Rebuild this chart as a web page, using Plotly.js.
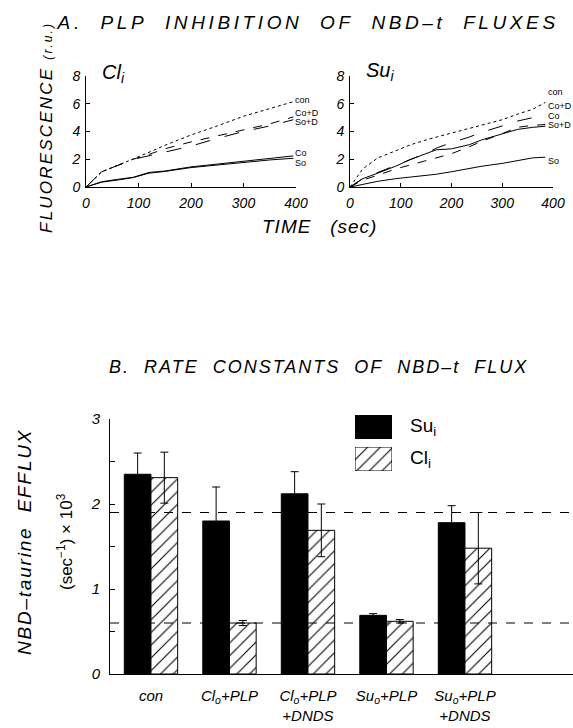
<!DOCTYPE html>
<html>
<head>
<meta charset="utf-8">
<script src="https://cdn.plot.ly/plotly-3.0.1.min.js"></script>
<style>
html,body{margin:0;padding:0;background:#fff;}
#chart{width:573px;height:728px;}
</style>
</head>
<body>
<div id="chart"></div>
<script>
// ---------- Panel A: Cl_i (left) ----------
const clTime = [0, 30, 60, 90, 120, 150, 200, 250, 300, 350, 395];
const clCon  = [0, 1.1, 1.55, 2.0, 2.5, 3.0, 3.75, 4.4, 5.1, 5.65, 6.15];
const clCoD  = [0, 1.1, 1.55, 2.0, 2.35, 2.75, 3.25, 3.7, 4.1, 4.55, 5.05];
const clSoD  = [0, 1.1, 1.55, 2.0, 2.25, 2.5, 2.95, 3.5, 4.0, 4.4, 4.85];
const clCo   = [0, 0.38, 0.55, 0.7, 1.05, 1.15, 1.45, 1.65, 1.85, 2.05, 2.24];
const clSo   = [0, 0.35, 0.5, 0.68, 1.0, 1.12, 1.4, 1.6, 1.8, 1.95, 2.07];

// ---------- Panel A: Su_i (right) ----------
const suTime = [0, 25, 55, 90, 120, 155, 170, 200, 235, 260, 300, 330, 360, 385];
const suCon  = [0, 1.3, 2.1, 2.6, 3.05, 3.45, 3.6, 3.9, 4.2, 4.5, 4.85, 5.25, 5.6, 6.1];
const suCoD  = [0, 0.6, 1.05, 1.55, 2.0, 2.5, 2.8, 3.2, 3.6, 3.95, 4.4, 4.75, 5.0, 5.2];
const suCo   = [0, 0.6, 1.0, 1.5, 2.0, 2.5, 2.68, 2.75, 3.05, 3.4, 3.8, 4.15, 4.3, 4.38];
const suSoD  = [0, 0.5, 0.85, 1.3, 1.6, 1.95, 2.1, 2.4, 2.9, 3.3, 3.85, 4.3, 4.45, 4.5];
const suSo   = [0, 0.2, 0.41, 0.6, 0.72, 0.85, 0.92, 1.1, 1.35, 1.5, 1.7, 1.88, 2.1, 2.15];

const timeTicks = [0, 100, 200, 300, 400];
const fluorTicks = [0, 2, 4, 6, 8];
const curveNames = ['con', 'Co+D', 'So+D', 'Co', 'So'];

// ---------- Panel B: rate constants ----------
const categories = ['con', 'Cl<sub>o</sub>+PLP', 'Cl<sub>o</sub>+PLP<br>+DNDS', 'Su<sub>o</sub>+PLP', 'Su<sub>o</sub>+PLP<br>+DNDS'];
const catPos = [0, 1, 2, 3, 4];
const suValues = [2.35, 1.80, 2.12, 0.69, 1.78];
const suErrors = [0.25, 0.40, 0.26, 0.02, 0.20];
const clValues = [2.31, 0.60, 1.69, 0.62, 1.48];
const clErrors = [0.30, 0.03, 0.31, 0.02, 0.42];
const rateTicks = [0, 0.5, 1, 1.5, 2, 2.5, 3];
const rateTickText = ['0', '', '1', '', '2', '', '3'];
const refLevels = [1.9, 0.6];
const legendLabels = ['Su<sub>i</sub>', 'Cl<sub>i</sub>'];
const legendSwatch = [1];

const FONT = 'Liberation Sans, Arial, sans-serif';
const W = 573, H = 728;
const px = v => v / W;
const py = v => 1 - v / H;

function line(x, y, dash, xa, ya, name) {
  return {type: 'scatter', mode: 'lines', x: x, y: y, xaxis: xa, yaxis: ya, name: name,
          line: {color: '#000', width: 1, dash: dash}, hoverinfo: 'skip'};
}
const hatch = {shape: '/', fgcolor: '#000', bgcolor: '#fff', size: 9, solidity: 0.12};

const traces = [
  line(clTime, clCon, 'dot', 'x', 'y', curveNames[0]),
  line(clTime, clCoD, 'dash', 'x', 'y', curveNames[1]),
  line(clTime, clSoD, 'longdash', 'x', 'y', curveNames[2]),
  line(clTime, clCo, 'solid', 'x', 'y', curveNames[3]),
  line(clTime, clSo, 'solid', 'x', 'y', curveNames[4]),
  line(suTime, suCon, 'dot', 'x2', 'y2', curveNames[0]),
  line(suTime, suCoD, 'longdash', 'x2', 'y2', curveNames[1]),
  line(suTime, suSoD, 'dash', 'x2', 'y2', curveNames[2]),
  line(suTime, suCo, 'solid', 'x2', 'y2', curveNames[3]),
  line(suTime, suSo, 'solid', 'x2', 'y2', curveNames[4]),
  {type: 'bar', x: catPos, y: suValues, xaxis: 'x3', yaxis: 'y3', name: 'Su',
   marker: {color: '#000', line: {color: '#000', width: 1}},
   error_y: {type: 'data', array: suErrors, visible: true, color: '#000', thickness: 1, width: 4}},
  {type: 'bar', x: catPos, y: clValues, xaxis: 'x3', yaxis: 'y3', name: 'Cl',
   marker: {color: '#fff', line: {color: '#000', width: 1}, pattern: hatch},
   error_y: {type: 'data', array: clErrors, visible: true, color: '#000', thickness: 1, width: 4}},
  {type: 'bar', orientation: 'h', x: legendSwatch, y: [0], xaxis: 'x4', yaxis: 'y4', width: 1,
   marker: {color: '#000', line: {color: '#000', width: 1}}, hoverinfo: 'skip'},
  {type: 'bar', orientation: 'h', x: legendSwatch, y: [0], xaxis: 'x5', yaxis: 'y5', width: 1,
   marker: {color: '#fff', line: {color: '#000', width: 1}, pattern: hatch}, hoverinfo: 'skip'}
];

const tf = {family: FONT, size: 14, style: 'italic', color: '#000'};
const axBase = {showline: true, linecolor: '#000', linewidth: 1, showgrid: false, zeroline: false,
                ticks: 'inside', ticklen: 4, tickcolor: '#000', tickfont: tf};

function ann(text, x, y, size, extra) {
  return Object.assign({text: text, x: px(x), y: py(y), xref: 'paper', yref: 'paper',
    xanchor: 'center', yanchor: 'middle', showarrow: false,
    font: {family: FONT, size: size, style: 'italic'}}, extra || {});
}

const annotations = [
  ann('A.\u00a0\u00a0PLP\u00a0\u00a0INHIBITION\u00a0\u00a0OF\u00a0\u00a0NBD\u2013t\u00a0\u00a0FLUXES', 308, 22, 19),
  ann('B.\u00a0\u00a0RATE\u00a0\u00a0CONSTANTS\u00a0\u00a0OF\u00a0\u00a0NBD\u2013t\u00a0\u00a0FLUX', 319, 367, 18),
  ann('TIME\u00a0\u00a0\u00a0(sec)', 319, 226, 19),
  ann('FLUORESCENCE\u00a0<span style="font-size:12px">(r.u.)</span>', 46, 128, 17, {textangle: -90}),
  ann('Cl<sub>i</sub>', 113, 74, 20),
  ann('Su<sub>i</sub>', 380, 72, 20),
  ann('NBD\u2013taurine\u00a0\u00a0EFFLUX', 24, 541, 19, {textangle: -90}),
  ann('(sec<sup>\u22121</sup>) \u00d7 10<sup>3</sup>', 65, 542, 17, {textangle: -90, font: {family: FONT, size: 17}}),
  ann(legendLabels[0], 408, 427, 19, {xanchor: 'left', font: {family: FONT, size: 19}}),
  ann(legendLabels[1], 408, 459, 19, {xanchor: 'left', font: {family: FONT, size: 19}})
];

// curve end labels (order: con, Co+D, So+D, Co, So)
const clLabelY = [6.3, 5.35, 4.65, 2.45, 1.72];
const suLabelY = [6.85, 5.85, 4.45, 5.15, 1.85];
curveNames.forEach((n, i) => {
  annotations.push({text: n, x: 396, y: clLabelY[i], xref: 'x', yref: 'y', xanchor: 'left', yanchor: 'middle',
    showarrow: false, font: {family: FONT, size: 9}, borderpad: 0});
  annotations.push({text: n, x: 389, y: suLabelY[i], xref: 'x2', yref: 'y2', xanchor: 'left', yanchor: 'middle',
    showarrow: false, font: {family: FONT, size: 9}, borderpad: 0});
});

const shapes = refLevels.map(v => ({type: 'line', xref: 'x3 domain', yref: 'y3', x0: 0, x1: 1, y0: v, y1: v,
  line: {color: '#000', width: 1, dash: 'dash'}}));

const layout = {
  width: W, height: H, margin: {l: 0, r: 0, t: 0, b: 0},
  paper_bgcolor: '#fff', plot_bgcolor: 'rgba(0,0,0,0)', showlegend: false,
  font: {family: FONT, color: '#000'},
  barmode: 'group', bargap: 0.32, bargroupgap: 0,
  xaxis: Object.assign({}, axBase, {domain: [px(86), px(296)], range: [0, 400], anchor: 'y', tickvals: timeTicks, ticklabelstandoff: 3}),
  yaxis: Object.assign({}, axBase, {domain: [py(187), py(76)], range: [0, 8], anchor: 'x', tickvals: fluorTicks, ticklabelstandoff: 2}),
  xaxis2: Object.assign({}, axBase, {domain: [px(350), px(553)], range: [0, 400], anchor: 'y2', tickvals: timeTicks, ticklabelstandoff: 3}),
  yaxis2: Object.assign({}, axBase, {domain: [py(187), py(76)], range: [0, 8], anchor: 'x2', tickvals: fluorTicks, ticklabelstandoff: 2}),
  xaxis3: Object.assign({}, axBase, {domain: [px(110), 1], range: [-0.522, 5.376], anchor: 'y3', ticks: '',
          tickvals: catPos, ticktext: categories, ticklabelstandoff: 8, tickfont: {family: FONT, size: 15, style: 'italic'}}),
  yaxis3: Object.assign({}, axBase, {domain: [py(674), py(419)], range: [0, 3], anchor: 'x3', tickvals: rateTicks,
          ticktext: rateTickText, ticklen: 5, ticklabelstandoff: 6, tickfont: {family: FONT, size: 15, style: 'italic'}}),
  xaxis4: {domain: [px(355), px(392)], range: [0, 1], anchor: 'y4', visible: false, fixedrange: true},
  yaxis4: {domain: [py(439), py(415)], range: [-0.5, 0.5], anchor: 'x4', visible: false, fixedrange: true},
  xaxis5: {domain: [px(355), px(392)], range: [0, 1], anchor: 'y5', visible: false, fixedrange: true},
  yaxis5: {domain: [py(471), py(447)], range: [-0.5, 0.5], anchor: 'x5', visible: false, fixedrange: true},
  annotations: annotations,
  shapes: shapes
};

const spacing = [['A.', '3.6px'], ['B.', '2px'], ['TIME', '1px'], ['NBD', '1.8px'], ['FLUOR', '2.2px']];
Plotly.newPlot('chart', traces, layout, {staticPlot: true, displayModeBar: false}).then(() => {
  document.querySelectorAll('.annotation-text').forEach(t => {
    const s = t.textContent;
    spacing.forEach(([k, v]) => { if (s.indexOf(k) === 0) t.style.letterSpacing = v; });
  });
});
</script>
</body>
</html>
